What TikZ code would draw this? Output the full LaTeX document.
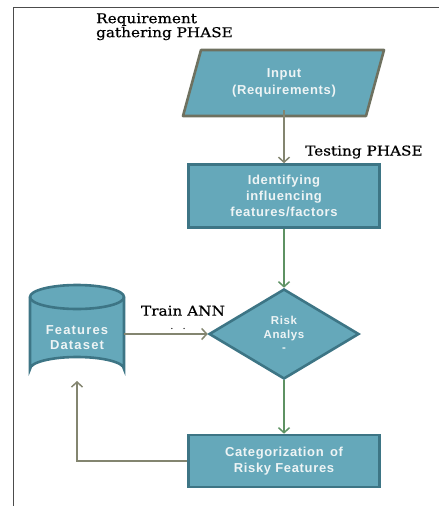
\documentclass[tikz,border=0pt]{standalone}
\usepackage{fontspec}
\setmainfont{DejaVu Serif}
\setsansfont{Liberation Sans}
\newfontfamily\phasefont[FakeStretch=1.13,FakeBold=0.6]{DejaVu Serif}
\newfontfamily\boxfont[LetterSpace=5]{Liberation Sans}
\newfontfamily\widefont[LetterSpace=9]{Liberation Sans}
\usetikzlibrary{shapes.geometric,arrows.meta}
\definecolor{tealfill}{HTML}{65A8BA}
\definecolor{tealedge}{HTML}{3D7585}
\definecolor{grayedge}{HTML}{6E7160}
\definecolor{grayarrow}{HTML}{838570}
\definecolor{greenarrow}{HTML}{5E9263}
\definecolor{boxtext}{HTML}{EEF4F5}
\begin{document}
\begin{tikzpicture}[x=1pt,y=-1pt,
  box/.style={draw=tealedge,fill=tealfill,line width=2.6pt,minimum width=191pt,
     inner sep=2pt,font=\boxfont\bfseries\fontsize{13}{16}\selectfont,text=boxtext,align=center},
  garrow/.style={draw=grayarrow,line width=1.5pt,-{Straight Barb[length=5pt,width=11pt,line width=1.5pt]}},
  grarrow/.style={draw=greenarrow,line width=1.5pt,-{Straight Barb[length=5pt,width=11pt,line width=1.5pt]}},
  phase/.style={font=\phasefont\fontsize{13.5}{14}\selectfont,text=black,align=left,inner sep=0pt}]
\useasboundingbox (0,0) rectangle (439,506);
% frame
\draw[draw=black!70,line width=0.9pt] (439,7) -- (13,7) -- (13,506);
% labels
\node[phase,anchor=north west] (req) at (96,13) {Requirement\\gathering PHASE};
\node[phase,anchor=west] (test) at (305,152) {Testing PHASE};
% parallelogram
\draw[draw=grayedge,fill=tealfill,line width=2.6pt,line join=round]
  (201,50) -- (384,50) -- (366,116) -- (183,116) -- cycle;
\node[font=\boxfont\bfseries\fontsize{13}{17}\selectfont,text=boxtext,align=center] (inp) at (284,83) {Input\\(Requirements)};
\coordinate (inpb) at (284,110);
% rectangles
\node[box,minimum height=63pt] (ident) at (284,196) {Identifying\\influencing\\features/factors};
\node[box,minimum height=52pt] (cat) at (284,461) {Categorization\hspace{2pt} of\\Risky Features};
% diamond
\node[diamond,draw=tealedge,fill=tealfill,line width=2.6pt,minimum width=150pt,minimum height=90pt,inner sep=0pt,
  font=\boxfont\bfseries\fontsize{11.5}{13.5}\selectfont,text=boxtext,align=center] (risk) at (284,334) {Risk\\Analys\\-};
% cylinder
\draw[draw=tealedge,fill=tealfill,line width=2.6pt]
  (30,297) -- (30,369) arc[start angle=180,end angle=360,x radius=47,y radius=12]
  -- (124,297) arc[start angle=0,end angle=-180,x radius=47,y radius=12] -- cycle;
\draw[draw=tealedge,line width=2.6pt] (30,297) arc[start angle=180,end angle=0,x radius=47,y radius=12];
\node[font=\widefont\bfseries\fontsize{13}{15}\selectfont,text=boxtext,align=center] (fds) at (77,338) {Features\\Dataset};
\coordinate (cylr) at (124,334);
\coordinate (cylb) at (77,381);
% connectors
\draw[garrow] (inpb) -- (ident.north);
\draw[grarrow] (ident.south) -- (risk.north);
\draw[grarrow] (risk.south) -- (cat.north);
\draw[garrow] (cylr) -- (risk.west);
\draw[garrow] (cat.west) -| (cylb);
\node[phase,anchor=south] (train) at (183,316) {Train ANN};
\node[font=\fontsize{10}{10}\selectfont,inner sep=0pt,anchor=south] (dots) at (178,330) {.\hspace{9pt}.};
\end{tikzpicture}
\end{document}
